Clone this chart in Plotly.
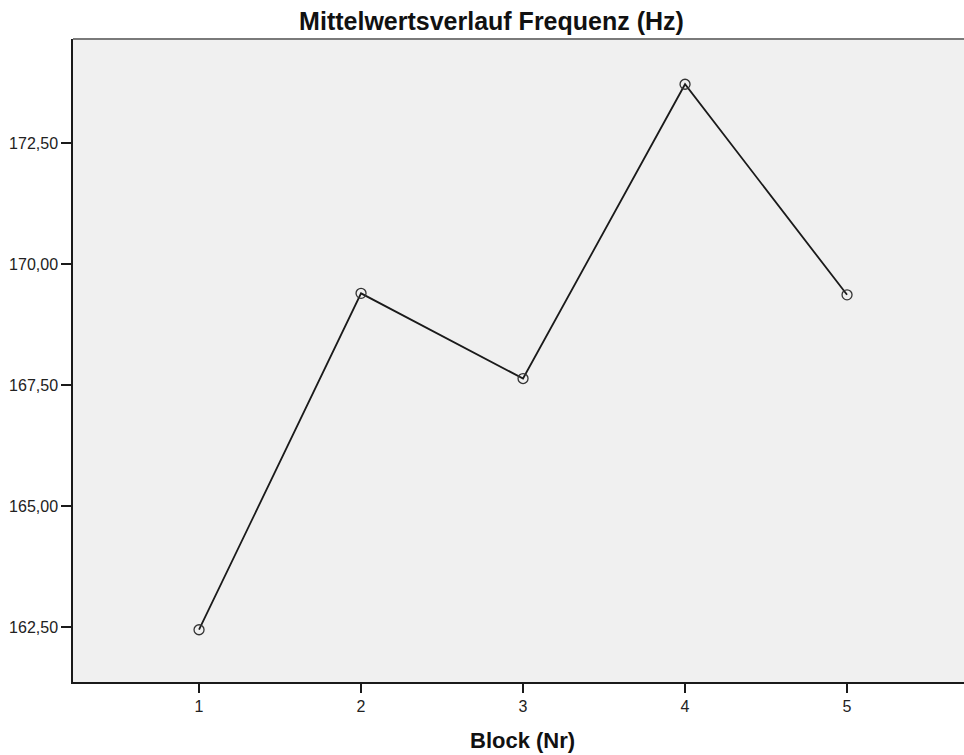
import plotly.graph_objects as go

blocks = [1, 2, 3, 4, 5]
means = [162.45, 169.40, 167.64, 173.72, 169.37]
y_ticks = [162.5, 165.0, 167.5, 170.0, 172.5]

W, H = 964, 755
L, R, T, B = 73, 0, 39, 73

fig = go.Figure()
fig.add_trace(go.Scatter(
    x=blocks, y=means, mode="lines+markers",
    line=dict(color="#1a1a1a", width=1.8),
    marker=dict(symbol="circle-open", size=10, color="#333333", line=dict(width=1.3)),
    showlegend=False, hoverinfo="x+y",
))

fig.update_layout(
    width=W, height=H,
    margin=dict(l=L, r=R, t=T, b=B, pad=0),
    paper_bgcolor="white", plot_bgcolor="#f0f0f0",
    separators=",.",
    font=dict(family="Liberation Sans, Arial, sans-serif", color="#222222", size=16),
    title=dict(text="<b>Mittelwertsverlauf Frequenz (Hz)</b>", x=491.5 / W, xref="container",
               xanchor="center", y=1 - 21 / H, yref="container", yanchor="middle",
               font=dict(size=25, color="#111111")),
    xaxis=dict(range=[0.222, 5.722], tickmode="array", tickvals=blocks,
               ticktext=[str(b) for b in blocks], showgrid=False, zeroline=False,
               showline=True, linecolor="#1a1a1a", linewidth=1.5,
               ticks="outside", ticklen=9, tickwidth=1.5, tickcolor="#1a1a1a",
               tickfont=dict(size=16)),
    yaxis=dict(range=[161.37, 174.655], tickmode="array", tickvals=y_ticks,
               tickformat=".2f", showgrid=False, zeroline=False,
               showline=True, linecolor="#1a1a1a", linewidth=1.5,
               ticks="outside", ticklen=10, tickwidth=1.5, tickcolor="#1a1a1a",
               tickfont=dict(size=16)),
    shapes=[dict(type="line", xref="paper", yref="paper", x0=0, x1=1, y0=1, y1=1,
                 line=dict(color="#7a7a7a", width=2))],
    annotations=[dict(text="<b>Block (Nr)</b>", xref="paper", yref="paper",
                      x=(522 - L) / (W - L), y=-(740 - (H - B)) / (H - T - B),
                      xanchor="center", yanchor="middle", showarrow=False,
                      font=dict(size=22, color="#111111"))],
)

fig.write_html("out.html", config={"displayModeBar": False})

with open("out.html", "r", encoding="utf-8") as f:
    html = f.read()
html = html.replace("<head>", "<head><style>html,body{margin:0;padding:0;overflow:hidden;}</style>", 1)
with open("out.html", "w", encoding="utf-8") as f:
    f.write(html)
